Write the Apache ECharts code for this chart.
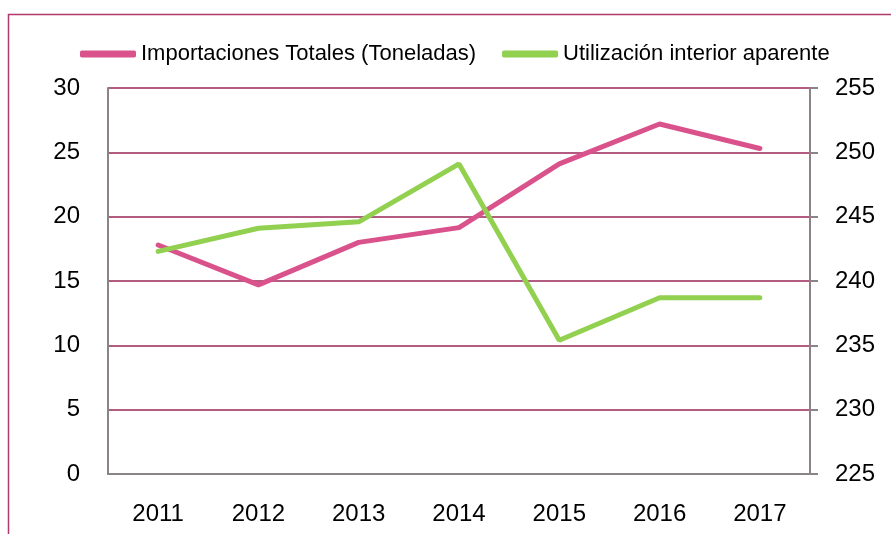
<!DOCTYPE html>
<html>
<head>
<meta charset="utf-8">
<script src="https://cdn.jsdelivr.net/npm/echarts@6/dist/echarts.min.js"></script>
<style>
  html, body { margin: 0; padding: 0; background: #fff; }
  #main { width: 891px; height: 534px; }
</style>
</head>
<body>
<div id="main"></div>
<script>
var years = ['2011', '2012', '2013', '2014', '2015', '2016', '2017'];
var importaciones = [17.8, 14.7, 18.0, 19.15, 24.1, 27.2, 25.3];
var utilizacion = [242.3, 244.1, 244.6, 249.1, 235.4, 238.7, 238.7];

var myChart = echarts.init(document.getElementById('main'));
var font = 'Liberation Sans';
var option = {
	animation: false,
	backgroundColor: '#fff',
	textStyle: { fontFamily: font },
	graphic: [{
		type: 'rect',
		shape: { x: 8.5, y: 14.5, width: 1000, height: 1000 },
		style: { fill: 'none', stroke: '#b03a6e', lineWidth: 1.5 },
		silent: true
	}],
	legend: {
		top: 43,
		left: 80,
		padding: 0,
		itemWidth: 56,
		itemHeight: 7,
		itemGap: 26,
		textStyle: { fontSize: 22, color: '#000', fontFamily: font },
		icon: 'roundRect',
		data: ['Importaciones Totales (Toneladas)', 'Utilización interior aparente']
	},
	grid: { left: 108, top: 88, width: 702, height: 386, containLabel: false },
	xAxis: {
		type: 'category',
		data: years,
		boundaryGap: true,
		axisLine: { lineStyle: { color: '#8c8386', width: 2 } },
		axisTick: { show: false },
		axisLabel: { fontSize: 24, color: '#000', margin: 28, fontFamily: font }
	},
	yAxis: [{
		type: 'value',
		min: 0, max: 30, interval: 5,
		axisLine: { show: true, lineStyle: { color: '#8c8386', width: 2 } },
		axisTick: { show: false },
		axisLabel: { fontSize: 24, color: '#000', margin: 28, fontFamily: font },
		splitLine: { lineStyle: { color: '#9b2559', width: 1.5 } }
	}, {
		type: 'value',
		min: 225, max: 255, interval: 5,
		position: 'right',
		axisLine: { show: true, lineStyle: { color: '#8c8386', width: 2 } },
		axisTick: { show: true, length: 8, lineStyle: { color: '#8c8386', width: 2 } },
		axisLabel: { fontSize: 24, color: '#000', margin: 25, fontFamily: font },
		splitLine: { show: false }
	}],
	series: [{
		name: 'Importaciones Totales (Toneladas)',
		type: 'line',
		yAxisIndex: 0,
		data: importaciones,
		symbol: 'none',
		lineStyle: { color: '#d9528b', width: 5, cap: 'round' },
		itemStyle: { color: '#d9528b' },
		z: 3
	}, {
		name: 'Utilización interior aparente',
		type: 'line',
		yAxisIndex: 1,
		data: utilizacion,
		symbol: 'none',
		lineStyle: { color: '#92d050', width: 5, cap: 'round' },
		itemStyle: { color: '#92d050' },
		z: 4
	}]
};
myChart.setOption(option);
</script>
</body>
</html>
